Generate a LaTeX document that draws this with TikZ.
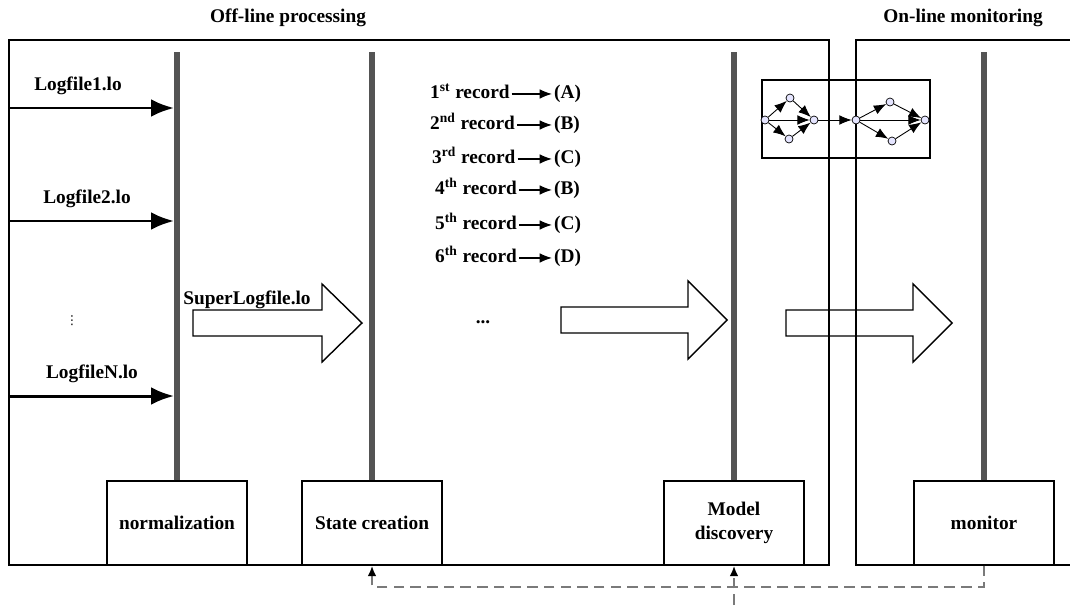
\documentclass[tikz,border=0pt]{standalone}
\usepackage{fontspec}
\setmainfont{Liberation Serif}
\newfontfamily\symfont{DejaVu Sans}
\usetikzlibrary{arrows.meta}
\tikzset{>={Latex[length=7pt,width=5.5pt]}}

\begin{document}
\begin{tikzpicture}[x=0.02cm,y=-0.02cm,
  every node/.style={font=\bfseries\fontsize{11}{14}\selectfont},
  stage/.style={draw,line width=0.8pt,minimum width=2.8cm,minimum height=1.68cm,align=center,inner sep=1pt},
  bar/.style={line width=3.5pt,color=black!67},
  logarrow/.style={line width=1.7pt,-{Latex[length=13pt,width=10pt]}},
  bigarrow/.style={line width=0.8pt},
  fback/.style={color=black!52,line width=1.2pt,dash pattern=on 6pt off 3.5pt},
  st/.style={circle,draw,fill=blue!10,inner sep=0pt,minimum size=0.16cm,line width=0.4pt}]

\useasboundingbox (0,0) rectangle (1070,605);

% frames
\draw[line width=0.6pt] (9,40) rectangle (829,565);
\draw[line width=0.6pt] (1075,40) -- (856,40) -- (856,565) -- (1075,565);
\node (offline) at (288,18) {Off-line processing};
\node (online) at (963,18) {On-line monitoring};

% stages and bars
\node[stage] (norm) at (177,523) {normalization};
\node[stage] (state) at (372,523) {State creation};
\node[stage] (model) at (734,523) {Model\\discovery};
\node[stage] (mon) at (984,523) {monitor};
\foreach \s in {norm,state,model,mon}
  \draw[bar] (\s.north) -- ++(0,-428);

% log files
\foreach \y/\n/\lx in {108/1/78,221/2/87,396/N/92}{
  \coordinate (src\n) at (9,\y);
  \coordinate (dst\n) at (174,\y);
  \draw[logarrow] (src\n) -- (dst\n);
  \node (lab\n) at (\lx,\y-22) {Logfile\n.lo};
}
\node[font=\symfont\fontsize{7}{8}\selectfont] (dots) at (72,321) {⋮};

% big arrows
\draw[bigarrow] (193,310) -- (322,310) -- (322,284) -- (362,323) -- (322,362) -- (322,336) -- (193,336) -- cycle;
\draw[bigarrow] (561,307) -- (688,307) -- (688,281) -- (727,320) -- (688,359) -- (688,333) -- (561,333) -- cycle;
\draw[bigarrow] (786,310) -- (913,310) -- (913,284) -- (952,323) -- (913,362) -- (913,336) -- (786,336) -- cycle;
\node (super) at (247,300) {SuperLogfile.lo};
\node (more) at (483,322) {...};

% records
\foreach \n/\s/\l/\y/\x in {1/st/A/94/428,2/nd/B/125/428,3/rd/C/159/430,4/th/B/190/433,5/th/C/225/433,6/th/D/258/433}{
  \node[anchor=base west,inner sep=1pt] (rec\n) at (\x,\y+4) {\n\textsuperscript{\s} record};
  \node[anchor=base west,inner sep=1pt] (let\n) at (552,\y+4) {(\l)};
  \draw[->,line width=0.8pt] (rec\n.mid east) -- (let\n.mid west);
}

% model
\draw[line width=0.6pt] (762,80) rectangle (930,158);
\node[st] (g1) at (765,120) {};
\node[st] (g2) at (790,98) {};
\node[st] (g3) at (789,139) {};
\node[st] (g4) at (814,120) {};
\node[st] (g5) at (856,120) {};
\node[st] (g6) at (890,102) {};
\node[st] (g7) at (892,141) {};
\node[st] (g8) at (925,120) {};
\foreach \a/\b in {1/2,1/3,1/4,2/4,3/4,4/5,5/6,5/7,5/8,6/8,7/8}
  \draw[->,line width=0.5pt] (g\a) -- (g\b);

% feedback
\draw[fback,-{Latex[length=6pt,width=5pt,black]}] (mon.south) -- ++(0,21) -| (state.south);
\coordinate (ext) at (734,605);
\draw[fback,-{Latex[length=6pt,width=5pt,black]}] (ext) -- (model.south);
\end{tikzpicture}
\end{document}
